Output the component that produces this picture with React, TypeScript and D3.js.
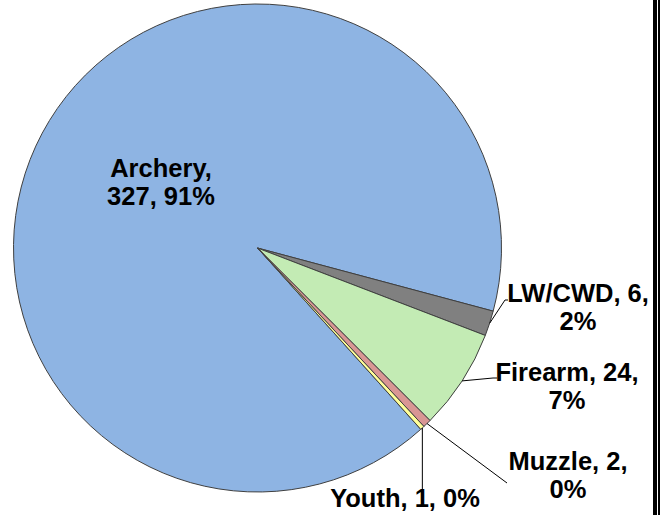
import React from "react";
import * as d3 from "d3";

const categories = ["Archery", "LW/CWD", "Firearm", "Muzzle", "Youth"];
const values = [327, 6, 24, 2, 1];
const percents = ["91%", "2%", "7%", "0%", "0%"];
const colors = ["#8EB4E3", "#808080", "#C3EBB4", "#D99694", "#FFFF99"];

const W = 663;
const H = 515;
const cx = 257.5;
const cy = 248;
const R = 244;

type Lay = { lines: string[]; x: number; y: number; leader?: [number, number][] };

export default function App() {
  const pie = d3
    .pie<number>()
    .sort(null)
    .value((d) => d)
    .startAngle((138 * Math.PI) / 180)
    .endAngle((138 * Math.PI) / 180 + 2 * Math.PI);
  const arcs = pie(values);
  const arcGen = d3.arc<d3.PieArcDatum<number>>().innerRadius(0).outerRadius(R);

  const edge = (a: d3.PieArcDatum<number>) => {
    const m = (a.startAngle + a.endAngle) / 2;
    return [cx + R * Math.sin(m), cy - R * Math.cos(m)] as [number, number];
  };

  const layouts: Lay[] = [
    { lines: [`${categories[0]},`, `${values[0]}, ${percents[0]}`], x: 161, y: 177 },
    {
      lines: [`${categories[1]}, ${values[1]},`, percents[1]],
      x: 578,
      y: 302,
      leader: [[505, 300], [508, 300]],
    },
    {
      lines: [`${categories[2]}, ${values[2]},`, percents[2]],
      x: 567,
      y: 381,
      leader: [[493, 378], [497, 378]],
    },
    {
      lines: [`${categories[3]}, ${values[3]},`, percents[3]],
      x: 568,
      y: 470,
      leader: [[507, 483]],
    },
    {
      lines: [`${categories[4]}, ${values[4]}, ${percents[4]}`],
      x: 405,
      y: 507,
      leader: [[419, 503]],
    },
  ];

  return (
    <svg
      width={W}
      height={H}
      style={{ position: "absolute", left: 0, top: 0, background: "#fff" }}
      fontFamily="'Liberation Sans', Arial, sans-serif"
    >
      <rect x={0} y={0} width={W} height={H} fill="#fff" />
      <g>
        {arcs.map((a, i) => (
          <path
            key={i}
            d={arcGen(a) || ""}
            transform={`translate(${cx},${cy})`}
            fill={colors[i]}
            stroke="#404040"
            strokeWidth={1}
          />
        ))}
      </g>
      <g>
        {arcs.map((a, i) => {
          const l = layouts[i];
          if (!l.leader) return null;
          const e = edge(a);
          let pts: [number, number][] = [e, ...l.leader];
          if (i === 4) pts = [e, [e[0], l.leader[0][1]]];
          return (
            <polyline
              key={i}
              points={pts.map((p) => p.join(",")).join(" ")}
              fill="none"
              stroke="#000"
              strokeWidth={1}
            />
          );
        })}
      </g>
      <g fontWeight="bold" fontSize={25.5} fill="#000" textAnchor="middle">
        {layouts.map((l, i) => (
          <text key={i} x={l.x} y={l.y}>
            {l.lines.map((t, j) => (
              <tspan key={j} x={l.x} y={l.y + j * 28}>
                {t}
              </tspan>
            ))}
          </text>
        ))}
      </g>
      <rect x={653} y={0} width={4} height={H} fill="#000" />
      <rect x={658} y={0} width={2} height={H} fill="#000" />
    </svg>
  );
}
